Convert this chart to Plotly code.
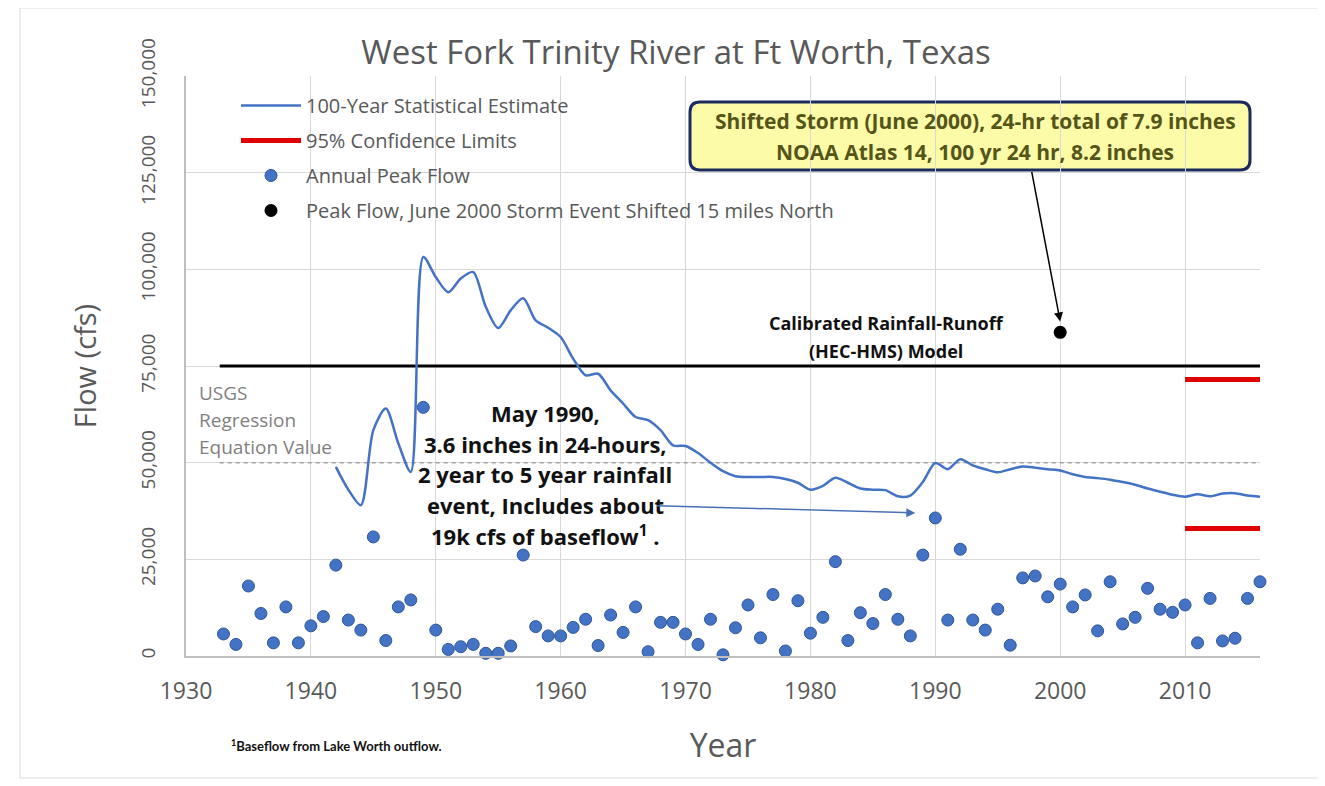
import plotly.graph_objects as go

# ---------------- data ----------------
peak_years = list(range(1933, 2017))
peak_flow = [5700, 3000, 18100, 11000, 3400, 12700, 3400, 7800, 10200, 23500,
             9300, 6700, 30800, 4000, 12700, 14500, 64300, 6700, 1700, 2400,
             3000, 700, 700, 2600, 26100, 7600, 5200, 5200, 7400, 9500,
             2700, 10600, 6100, 12700, 1100, 8700, 8700, 5700, 3000, 9500,
             300, 7300, 13200, 4700, 15900, 1300, 14300, 5900, 10000, 24400,
             4000, 11200, 8400, 15900, 9500, 5200, 26100, 35700, 9300, 27600,
             9300, 6700, 12100, 2800, 20200, 20700, 15300, 18600, 12700, 15800,
             6500, 19200, 8300, 10000, 17500, 12100, 11300, 13200, 3400, 14900,
             3900, 4600, 14900, 19200]

est_years = list(range(1942, 2017))
est_100yr = [48900, 43000, 39000, 58400, 64000, 55000, 47600, 103200, 98000, 94100,
             97600, 99300, 90300, 84800, 89400, 92500, 86800, 84900, 82500, 76900,
             72600, 73000, 68700, 65300, 61800, 61000, 58400, 54500, 54300, 52500,
             50000, 47800, 46500, 46300, 46300, 46300, 45800, 44800, 43000, 44000,
             46100, 44800, 43300, 43000, 42900, 41300, 41500, 45000, 49900, 48300,
             50900, 49300, 48300, 47500, 48300, 49000, 48700, 48300, 48000, 47000,
             46300, 46000, 45600, 45000, 44300, 43300, 42500, 41700, 41200, 41800,
             41300, 42000, 42100, 41500, 41200]

ci_years = [2010, 2016]
ci_upper = 71500
ci_lower = 33000

shifted_year = [2000]
shifted_flow = [83700]

ref_years = [1932.7, 2016]
usgs_value = 50000
hms_value = 75000

x_ticks = [1930, 1940, 1950, 1960, 1970, 1980, 1990, 2000, 2010]
y_ticks = [0, 25000, 50000, 75000, 100000, 125000, 150000]

# ---------------- geometry helpers (page pixel -> paper) ----------------
OFF = 8                      # default body margin of the html page
W, H = 1325 - OFF, 786 - OFF
L, R, T, B = 186, 1260, 76, 656   # plot area in page pixels


def px(x):
    return (x - L) / (R - L)


def py(y):
    return (B - y) / (B - T)


FONT = "Open Sans"
GRAY = "#595959"
BLUE = "#4472c4"

fig = go.Figure()

fig.add_trace(go.Scatter(
    x=ref_years, y=[usgs_value] * 2, mode="lines", showlegend=False,
    line=dict(color="#a0a0a0", width=1.5, dash="4px,4px"), hoverinfo="skip"))
fig.add_trace(go.Scatter(
    x=ref_years, y=[hms_value] * 2, mode="lines", showlegend=False,
    line=dict(color="#000000", width=3), hoverinfo="skip"))

fig.add_trace(go.Scatter(
    x=est_years, y=est_100yr, mode="lines", name="100-Year Statistical Estimate",
    line=dict(color=BLUE, width=2.5, shape="spline", smoothing=0.8),
    legendgroup="a"))
fig.add_trace(go.Scatter(
    x=ci_years + [None] + ci_years, y=[ci_upper] * 2 + [None] + [ci_lower] * 2,
    mode="lines", name="95% Confidence Limits",
    line=dict(color="#e00000", width=5), legendgroup="b"))
fig.add_trace(go.Scatter(
    x=peak_years, y=peak_flow, mode="markers", name="Annual Peak Flow",
    marker=dict(color=BLUE, size=12, line=dict(color="#2f5597", width=1)),
    cliponaxis=False, legendgroup="c"))
fig.add_trace(go.Scatter(
    x=shifted_year, y=shifted_flow, mode="markers",
    name="Peak Flow, June 2000 Storm Event Shifted 15 miles North",
    marker=dict(color="#000000", size=13), legendgroup="d"))

annotations = []


def txt(text, x, y, size, color, bold=False, xanchor="center", family=FONT):
    if bold:
        text = "<b>" + text + "</b>"
    annotations.append(dict(text=text, x=px(x), y=py(y), xref="paper", yref="paper",
                            xanchor=xanchor, yanchor="middle", showarrow=False,
                            font=dict(family=family, size=size, color=color)))


# storm box text
txt("Shifted Storm (June 2000), 24-hr total of 7.9 inches", 975, 121, 21, "#55551a", True)
txt("NOAA Atlas 14, 100 yr 24 hr, 8.2 inches", 975, 152, 21, "#55551a", True)

# HEC-HMS label
txt("Calibrated Rainfall-Runoff", 886, 323, 18, "#111111", True)
txt("(HEC-HMS) Model", 886, 351, 18, "#111111", True)

# USGS label
txt("USGS", 197, 393, 19, "#7f7f7f", False, "left")
txt("Regression", 197, 420, 19, "#7f7f7f", False, "left")
txt("Equation Value", 197, 447, 19, "#7f7f7f", False, "left")

# May 1990 label
for i, line in enumerate(["May 1990,", "3.6 inches in 24-hours,", "2 year to 5 year rainfall",
                          "event, Includes about", "19k cfs of baseflow<sup>1</sup> ."]):
    txt(line, 545, 413 + i * 30.5, 22, "#111111", True)

# footnote
txt("<sup>1</sup>Baseflow from Lake Worth outflow.", 229, 745, 13, "#111111", True, "left", "Lato")

# arrows
annotations.append(dict(x=2000, y=86500, ax=1997.7, ay=125600, xref="x", yref="y",
                        axref="x", ayref="y", text="", showarrow=True, arrowhead=2,
                        arrowsize=1.2, arrowwidth=1.5, arrowcolor="#000000"))
annotations.append(dict(x=1988.4, y=37000, ax=1967.6, ay=38900, xref="x", yref="y",
                        axref="x", ayref="y", text="", showarrow=True, arrowhead=2,
                        arrowsize=1.2, arrowwidth=1.5, arrowcolor="#4a6fb5"))


# rounded box shape
def rounded_path(x0, y0, x1, y1, r):
    pts = [f"M{px(x0 + r)},{py(y0)}",
           f"L{px(x1 - r)},{py(y0)}",
           f"Q{px(x1)},{py(y0)} {px(x1)},{py(y0 + r)}",
           f"L{px(x1)},{py(y1 - r)}",
           f"Q{px(x1)},{py(y1)} {px(x1 - r)},{py(y1)}",
           f"L{px(x0 + r)},{py(y1)}",
           f"Q{px(x0)},{py(y1)} {px(x0)},{py(y1 - r)}",
           f"L{px(x0)},{py(y0 + r)}",
           f"Q{px(x0)},{py(y0)} {px(x0 + r)},{py(y0)}",
           "Z"]
    return " ".join(pts)


shapes = [
    dict(type="path", path=rounded_path(690, 102, 1250, 170, 10), xref="paper", yref="paper",
         fillcolor="#fcfca8", line=dict(color="#1c2a5e", width=3), layer="below"),
    dict(type="rect", xref="paper", yref="paper", x0=px(20), x1=px(1318), y0=py(8), y1=py(778),
         line=dict(color="#dcdcdc", width=1), fillcolor="rgba(0,0,0,0)", layer="below"),
    dict(type="rect", xref="paper", yref="paper", x0=px(0), x1=px(4), y0=py(583), y1=py(630),
         line=dict(width=0), fillcolor="#777777", layer="above"),
]

fig.update_layout(
    width=W, height=H,
    margin=dict(l=L - OFF, r=(W + OFF) - R, t=T - OFF, b=(H + OFF) - B, autoexpand=False),
    paper_bgcolor="white", plot_bgcolor="white",
    font=dict(family=FONT, color=GRAY),
    title=dict(text="West Fork Trinity River at Ft Worth, Texas", x=px(676), xref="paper",
               xanchor="center", y=1 - (52 - OFF) / H, yref="container", yanchor="middle",
               font=dict(family=FONT, size=33, color=GRAY)),
    xaxis=dict(range=[1930, 2016], tickvals=x_ticks, showgrid=True, gridcolor="#d9d9d9",
               showline=True, linecolor="#bfbfbf", linewidth=1.5, ticks="", zeroline=False,
               tickfont=dict(family=FONT, size=23, color=GRAY), ticklabelstandoff=14,
               title=dict(text="Year", font=dict(family=FONT, size=32, color=GRAY), standoff=29)),
    yaxis=dict(range=[0, 150000], tickvals=y_ticks, tickformat=",", tickangle=-90,
               showgrid=True, gridcolor="#d9d9d9", showline=True, linecolor="#bfbfbf",
               linewidth=1.5, ticks="", zeroline=False,
               tickfont=dict(family=FONT, size=19, color=GRAY), ticklabelstandoff=22,
               title=dict(text="Flow (cfs)", font=dict(family=FONT, size=29, color=GRAY), standoff=30)),
    legend=dict(x=px(236), y=py(86), xanchor="left", yanchor="top", bgcolor="rgba(0,0,0,0)",
                font=dict(family=FONT, size=20, color=GRAY), tracegroupgap=6, itemwidth=60),
    annotations=annotations,
    shapes=shapes,
)

fig.write_html("out.html")
